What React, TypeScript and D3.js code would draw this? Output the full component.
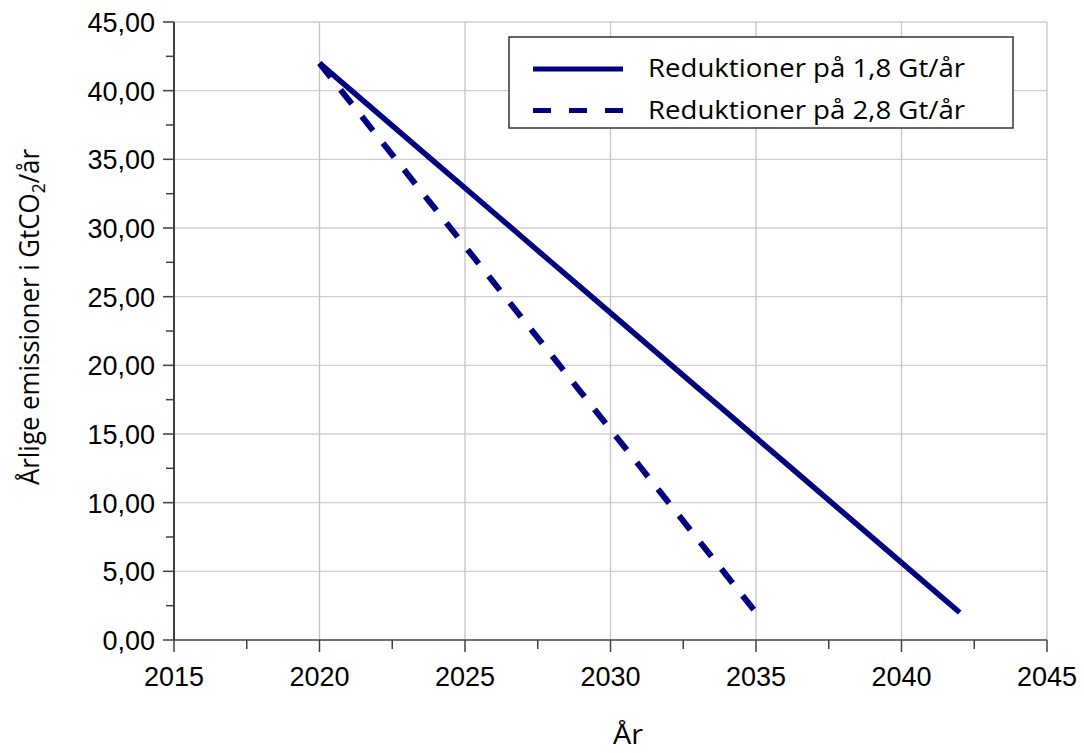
import React from "react";
import * as d3 from "d3";

const years18: number[] = [2020, 2021, 2022, 2023, 2024, 2025, 2026, 2027, 2028, 2029, 2030, 2031, 2032, 2033, 2034, 2035, 2036, 2037, 2038, 2039, 2040, 2041, 2042];
const values18: number[] = [42.0, 40.18, 38.36, 36.55, 34.73, 32.91, 31.09, 29.27, 27.45, 25.64, 23.82, 22.0, 20.18, 18.36, 16.55, 14.73, 12.91, 11.09, 9.27, 7.45, 5.64, 3.82, 2.0];
const years28: number[] = [2020, 2021, 2022, 2023, 2024, 2025, 2026, 2027, 2028, 2029, 2030, 2031, 2032, 2033, 2034, 2035];
const values28: number[] = [42.0, 39.33, 36.67, 34.0, 31.33, 28.67, 26.0, 23.33, 20.67, 18.0, 15.33, 12.67, 10.0, 7.33, 4.67, 2.0];
const seriesNames: string[] = ["Reduktioner på 1,8 Gt/år", "Reduktioner på 2,8 Gt/år"];
const xTicks: number[] = [2015, 2020, 2025, 2030, 2035, 2040, 2045];
const xMinorTicks: number[] = [2017.5, 2022.5, 2027.5, 2032.5, 2037.5, 2042.5];
const yTicks: number[] = [0, 5, 10, 15, 20, 25, 30, 35, 40, 45];
const yMinorTicks: number[] = [2.5, 7.5, 12.5, 17.5, 22.5, 27.5, 32.5, 37.5, 42.5];
const xTitle = "År";

const W = 1084;
const H = 753;
const left = 174, right = 1047, top = 22, bottom = 640;
const navy = "#000080";
const axisColor = "#404040";
const gridColor = "#cfcfcf";
const tickFont = "'Liberation Sans', Arial, sans-serif";
const humanFont = "'Open Sans', 'Noto Sans', sans-serif";

const locale = d3.formatLocale({ decimal: ",", thousands: ".", grouping: [3], currency: ["", " kr"] });
const fmtY = locale.format(".2f");

export default function App() {
  const x = d3.scaleLinear().domain([2015, 2045]).range([left, right]);
  const y = d3.scaleLinear().domain([0, 45]).range([bottom, top]);
  const line = d3.line<[number, number]>().x((d) => x(d[0])).y((d) => y(d[1]));
  const d18 = line(years18.map((yr, i) => [yr, values18[i]] as [number, number])) || "";
  const d28 = line(years28.map((yr, i) => [yr, values28[i]] as [number, number])) || "";

  return (
    <svg width={W} height={H} style={{ position: "absolute", left: 0, top: 0, background: "#fff" }}>
      <rect x={0} y={0} width={W} height={H} fill="#fff" />
      {yTicks.filter((t) => t > 0).map((t) => (
        <line key={"gy" + t} x1={left} x2={right} y1={y(t)} y2={y(t)} stroke={gridColor} strokeWidth={1.3} />
      ))}
      {xTicks.filter((t) => t > 2015).map((t) => (
        <line key={"gx" + t} x1={x(t)} x2={x(t)} y1={top} y2={bottom} stroke={"#c4c4c4"} strokeWidth={1.3} />
      ))}
      <line x1={left} x2={left} y1={top} y2={bottom} stroke={axisColor} strokeWidth={2} />
      <line x1={left} x2={right} y1={bottom} y2={bottom} stroke={axisColor} strokeWidth={1.6} />
      {yTicks.map((t) => (
        <line key={"yt" + t} x1={left - 11} x2={left} y1={y(t)} y2={y(t)} stroke={axisColor} strokeWidth={1.5} />
      ))}
      {yMinorTicks.map((t) => (
        <line key={"ym" + t} x1={left - 8} x2={left} y1={y(t)} y2={y(t)} stroke={axisColor} strokeWidth={1.5} />
      ))}
      {xTicks.map((t) => (
        <line key={"xt" + t} x1={x(t)} x2={x(t)} y1={bottom} y2={bottom + 12} stroke={axisColor} strokeWidth={1.5} />
      ))}
      {xMinorTicks.map((t) => (
        <line key={"xm" + t} x1={x(t)} x2={x(t)} y1={bottom} y2={bottom + 9} stroke={axisColor} strokeWidth={1.5} />
      ))}
      {yTicks.map((t) => (
        <text key={"yl" + t} x={155} y={y(t) + 10} textAnchor="end" fontFamily={tickFont} fontSize={27} fill="#000">
          {fmtY(t)}
        </text>
      ))}
      {xTicks.map((t) => (
        <text key={"xl" + t} x={x(t)} y={686} textAnchor="middle" fontFamily={tickFont} fontSize={27} fill="#000">
          {String(t)}
        </text>
      ))}
      <text
        transform={`translate(39,317) rotate(-90)`}
        textAnchor="middle"
        fontFamily={humanFont}
        fontSize={28}
        fill="#000"
        textLength={336}
        lengthAdjust="spacingAndGlyphs"
      >
        Årlige emissioner i GtCO<tspan fontSize={19} dy={6}>2</tspan><tspan dy={-6}>/år</tspan>
      </text>
      <text x={628} y={744} textAnchor="middle" fontFamily={humanFont} fontSize={28} fill="#000" textLength={30} lengthAdjust="spacingAndGlyphs">
        {xTitle}
      </text>
      <path d={d18} fill="none" stroke={navy} strokeWidth={5.5} strokeLinecap="butt" strokeLinejoin="round" />
      <path d={d28} fill="none" stroke={navy} strokeWidth={6} strokeDasharray="18 16" strokeLinecap="butt" />
      <rect x={509} y={37} width={504} height={91} fill="#fff" stroke="#333" strokeWidth={1.5} />
      <line x1={533} x2={623} y1={69} y2={69} stroke={navy} strokeWidth={5} />
      <line x1={533} x2={623} y1={110.5} y2={110.5} stroke={navy} strokeWidth={5} strokeDasharray="18 18" />
      <text x={648} y={77} fontFamily={humanFont} fontSize={25} fill="#000" textLength={317} lengthAdjust="spacingAndGlyphs">
        {seriesNames[0]}
      </text>
      <text x={648} y={119} fontFamily={humanFont} fontSize={25} fill="#000" textLength={317} lengthAdjust="spacingAndGlyphs">
        {seriesNames[1]}
      </text>
    </svg>
  );
}
